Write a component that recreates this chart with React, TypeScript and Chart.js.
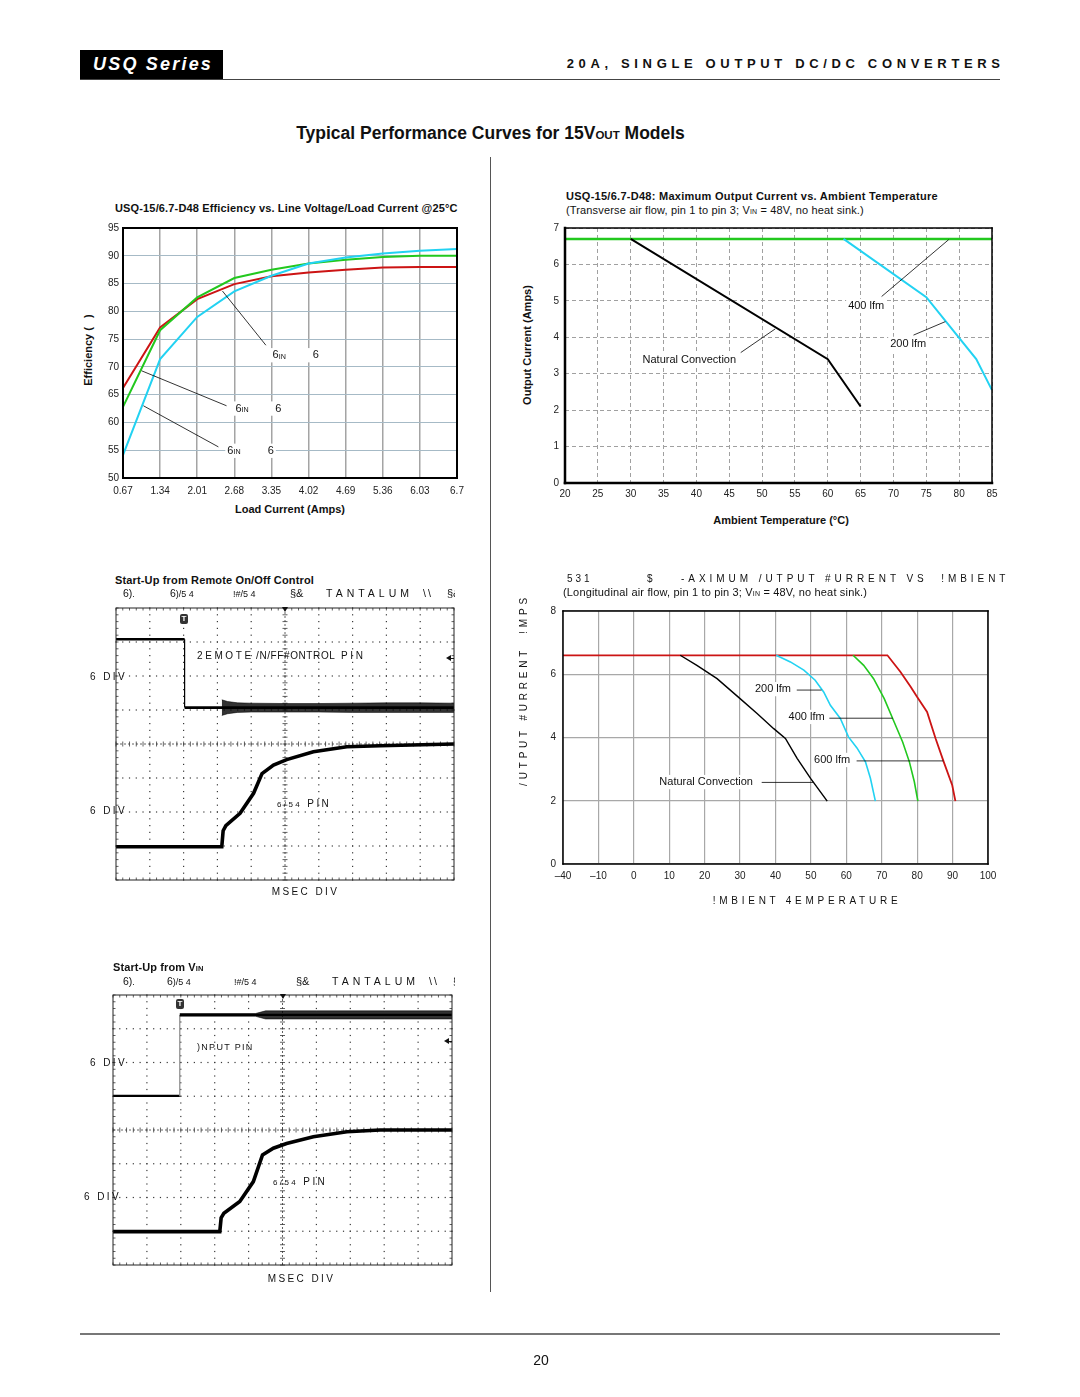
import React, { useEffect, useRef } from "react";
import { Chart, registerables } from "chart.js";

Chart.register(...registerables);

const FONT = '"Liberation Sans", Arial, Helvetica, sans-serif';
const NARROW = '"Liberation Sans Narrow", "Liberation Sans", Arial, sans-serif';
const RED = "#cc1414";
const GREEN = "#22c81e";
const CYAN = "#22d2f2";

// ===== Chart 1: efficiency vs line voltage / load current =====
const effLoadLabels = ["0.67", "1.34", "2.01", "2.68", "3.35", "4.02", "4.69", "5.36", "6.03", "6.7"];
const effRedLine = [66.2, 77.1, 82.2, 84.9, 86.3, 87.0, 87.5, 87.9, 88.0, 88.0];
const effGreenLine = [62.8, 76.6, 82.5, 86.0, 87.5, 88.6, 89.3, 89.8, 90.0, 90.0];
const effCyanLine = [54.1, 71.4, 79.0, 83.6, 86.4, 88.6, 89.7, 90.4, 90.9, 91.2];

// ===== Chart 2: max output current vs ambient temp (transverse) =====
const transNaturalTemps = [30, 60, 65];
const transNaturalAmps = [6.7, 3.4, 2.1];
const trans400Temps = [20, 85];
const trans400Amps = [6.7, 6.7];
const trans200Temps = [62.4, 75, 82.6, 85];
const trans200Amps = [6.7, 5.1, 3.4, 2.55];

// ===== Chart 5: max output current vs ambient temp (longitudinal) =====
const longTickLabels = ["\u201340", "\u201310", "0", "10", "20", "30", "40", "50", "60", "70", "80", "90", "100"];
const longNaturalTemps = [13.1, 17.8, 23.5, 30.0, 34.8, 39.5, 42.8, 46.1, 49.9, 54.6];
const longNaturalAmps = [6.6, 6.28, 5.86, 5.23, 4.76, 4.28, 3.97, 3.34, 2.71, 1.99];
const long200Temps = [40.2, 44.2, 48.0, 51.2, 53.6, 55.5, 58.3, 60.6, 63.0, 65.4, 66.8, 68.2];
const long200Amps = [6.6, 6.39, 6.13, 5.81, 5.44, 5.02, 4.6, 4.02, 3.67, 3.23, 2.71, 1.99];
const long400Temps = [61.9, 64.9, 67.7, 70.7, 73.5, 75.9, 77.8, 79.2, 80.2];
const long400Amps = [6.6, 6.28, 5.86, 5.23, 4.49, 3.86, 3.23, 2.6, 1.99];
const long600Temps = [-20, 71.6, 75.3, 78.2, 80, 82.8, 85.2, 87.5, 89.9, 90.8];
const long600Amps = [6.6, 6.6, 6.07, 5.6, 5.28, 4.81, 3.97, 3.23, 2.49, 1.99];

// ===== Scope 1: start-up from remote on/off (divisions) =====
const remoteDivX = [0, 2.03, 2.03, 3.13, 10];
const remoteDivY = [7.08, 7.08, 5.07, 5.07, 5.07];
const remoteNoiseX = [3.13, 3.3, 3.6, 4, 5, 6, 7, 8, 9, 10];
const remoteNoiseHi = [5.3, 5.25, 5.21, 5.2, 5.19, 5.19, 5.2, 5.21, 5.21, 5.2];
const remoteNoiseLo = [4.84, 4.89, 4.93, 4.94, 4.94, 4.94, 4.93, 4.93, 4.93, 4.93];
const vout1DivX = [0, 3.13, 3.17, 3.25, 3.67, 4.07, 4.32, 4.66, 5.05, 5.84, 6.83, 7.81, 10];
const vout1DivY = [0.98, 0.98, 1.45, 1.6, 1.96, 2.55, 3.13, 3.38, 3.54, 3.77, 3.92, 3.95, 4.0];

// ===== Scope 2: start-up from VIN (divisions) =====
const inputDivX = [0, 1.97, 1.97, 10];
const inputDivY = [5.01, 5.01, 7.41, 7.41];
const inputNoiseX = [1.97, 4.2, 4.5, 6, 8, 10];
const inputNoiseHi = [7.45, 7.45, 7.53, 7.53, 7.53, 7.53];
const inputNoiseLo = [7.37, 7.37, 7.29, 7.29, 7.29, 7.29];
const vout2DivX = [0, 3.15, 3.19, 3.27, 3.74, 4.14, 4.41, 4.73, 5.12, 5.91, 6.9, 7.88, 10];
const vout2DivY = [0.99, 0.99, 1.4, 1.53, 1.88, 2.47, 3.26, 3.46, 3.6, 3.8, 3.95, 4.0, 4.0];

const pts = (xs: number[], ys: number[]) => xs.map((x, i) => ({ x, y: ys[i] }));

type Note =
  | { kind: "line"; x1: number; y1: number; x2: number; y2: number }
  | { kind: "label"; x: number; y: number; text: string; sub?: string; x2?: number; text2?: string };

function notesPlugin(notes: Note[], size = 11) {
  return {
    id: "notes",
    afterDatasetsDraw(chart: any) {
      const { ctx } = chart;
      const xs = chart.scales.x;
      const ys = chart.scales.y;
      ctx.save();
      ctx.strokeStyle = "#000";
      ctx.lineWidth = 0.8;
      for (const n of notes) {
        if (n.kind !== "line") continue;
        ctx.beginPath();
        ctx.moveTo(xs.getPixelForValue(n.x1), ys.getPixelForValue(n.y1));
        ctx.lineTo(xs.getPixelForValue(n.x2), ys.getPixelForValue(n.y2));
        ctx.stroke();
      }
      ctx.textBaseline = "middle";
      for (const n of notes) {
        if (n.kind !== "label") continue;
        const px = xs.getPixelForValue(n.x);
        const py = ys.getPixelForValue(n.y);
        ctx.font = `${size}px ${FONT}`;
        const w1 = ctx.measureText(n.text).width;
        ctx.font = `${size * 0.65}px ${FONT}`;
        const ws = n.sub ? ctx.measureText(n.sub).width : 0;
        ctx.font = `${size}px ${FONT}`;
        let end = px + w1 + ws;
        let p2 = 0;
        if (n.x2 !== undefined && n.text2) {
          p2 = xs.getPixelForValue(n.x2);
          end = p2 + ctx.measureText(n.text2).width;
        }
        ctx.fillStyle = "#fff";
        ctx.fillRect(px - 2, py - size * 0.65, end - px + 4, size * 1.3);
        ctx.fillStyle = "#111";
        ctx.fillText(n.text, px, py);
        if (n.sub) {
          ctx.font = `${size * 0.65}px ${FONT}`;
          ctx.fillText(n.sub, px + w1, py + 1.5);
          ctx.font = `${size}px ${FONT}`;
        }
        if (n.x2 !== undefined && n.text2) ctx.fillText(n.text2, p2, py);
      }
      ctx.restore();
    },
  };
}

function framePlugin(w: { t: number; r: number; b: number; l: number }) {
  return {
    id: "frame",
    afterDatasetsDraw(chart: any) {
      const { ctx, chartArea } = chart;
      const { left, right, top, bottom } = chartArea;
      ctx.save();
      ctx.strokeStyle = "#000";
      ctx.lineCap = "square";
      const ln = (x1: number, y1: number, x2: number, y2: number, lw: number) => {
        ctx.lineWidth = lw;
        ctx.beginPath();
        ctx.moveTo(x1, y1);
        ctx.lineTo(x2, y2);
        ctx.stroke();
      };
      ln(left, top, right, top, w.t);
      ln(right, top, right, bottom, w.r);
      ln(left, bottom, right, bottom, w.b);
      ln(left, top, left, bottom, w.l);
      ctx.restore();
    },
  };
}

const graticulePlugin = {
  id: "graticule",
  beforeDatasetsDraw(chart: any) {
    const { ctx, chartArea } = chart;
    const { left, right, top, bottom } = chartArea;
    const xs = chart.scales.x;
    const ys = chart.scales.y;
    ctx.save();
    ctx.fillStyle = "#3a3a3a";
    for (let i = 1; i < 10; i++) {
      if (i === 5) continue;
      const gx = xs.getPixelForValue(i);
      for (let k = 0; k <= 40; k++) ctx.fillRect(gx - 0.6, ys.getPixelForValue(k / 5) - 0.6, 1.2, 1.2);
    }
    for (let j = 1; j < 8; j++) {
      if (j === 4) continue;
      const gy = ys.getPixelForValue(j);
      for (let k = 0; k <= 50; k++) ctx.fillRect(xs.getPixelForValue(k / 5) - 0.6, gy - 0.6, 1.2, 1.2);
    }
    const cx = xs.getPixelForValue(5);
    const cy = ys.getPixelForValue(4);
    ctx.strokeStyle = "#3a3a3a";
    ctx.lineWidth = 0.8;
    ctx.setLineDash([2, 2]);
    ctx.beginPath();
    ctx.moveTo(cx, top);
    ctx.lineTo(cx, bottom);
    ctx.moveTo(left, cy);
    ctx.lineTo(right, cy);
    ctx.stroke();
    ctx.setLineDash([]);
    ctx.beginPath();
    for (let k = 0; k <= 50; k++) {
      const x = xs.getPixelForValue(k / 5);
      ctx.moveTo(x, cy - 2.5);
      ctx.lineTo(x, cy + 2.5);
      ctx.moveTo(x, top);
      ctx.lineTo(x, top + 2.5);
      ctx.moveTo(x, bottom);
      ctx.lineTo(x, bottom - 2.5);
    }
    for (let k = 0; k <= 40; k++) {
      const y = ys.getPixelForValue(k / 5);
      ctx.moveTo(cx - 2.5, y);
      ctx.lineTo(cx + 2.5, y);
      ctx.moveTo(left, y);
      ctx.lineTo(left + 2.5, y);
      ctx.moveTo(right, y);
      ctx.lineTo(right - 2.5, y);
    }
    ctx.stroke();
    ctx.restore();
  },
  afterDatasetsDraw(chart: any) {
    const { ctx, chartArea } = chart;
    ctx.save();
    ctx.strokeStyle = "#222";
    ctx.lineWidth = 1;
    ctx.strokeRect(chartArea.left, chartArea.top, chartArea.right - chartArea.left, chartArea.bottom - chartArea.top);
    ctx.restore();
  },
};

function box(pl: number, pt: number, pr: number, pb: number, L: number, B: number, padR: number, padT: number) {
  return { left: pl - L, top: pt - padT, width: pr - pl + L + padR, height: pb - pt + padT + B, L, B, padR, padT };
}

const tickFont = { family: NARROW, size: 10 };

function baseOptions(b: ReturnType<typeof box>) {
  return {
    responsive: false,
    animation: false,
    events: [],
    layout: { autoPadding: false, padding: { left: 0, top: b.padT, right: b.padR, bottom: 0 } },
    plugins: { legend: { display: false }, tooltip: { enabled: false } },
  };
}

const effBox = box(123, 228, 457, 478, 27, 24, 18, 14);
const transBox = box(565, 228, 992, 483, 22, 24, 16, 15);
const longBox = box(563, 611, 988, 864, 24, 24, 20, 16);
const scope1Box = { left: 115, top: 607, width: 340, height: 274 };
const scope2Box = { left: 112, top: 994, width: 341, height: 272 };

function effConfig() {
  const line = (data: number[], color: string) => ({
    data,
    borderColor: color,
    borderWidth: 2,
    pointRadius: 0,
    tension: 0,
    fill: false,
  });
  return {
    type: "line",
    data: {
      labels: effLoadLabels,
      datasets: [line(effCyanLine, CYAN), line(effGreenLine, GREEN), line(effRedLine, RED)],
    },
    options: {
      ...baseOptions(effBox),
      scales: {
        x: {
          type: "category",
          offset: false,
          grid: { color: "#a4a4a4", lineWidth: 1.5, drawTicks: false, offset: false },
          border: { display: false },
          ticks: { font: tickFont, color: "#222", padding: 7, autoSkip: false, maxRotation: 0 },
          afterFit: (s: any) => {
            s.height = effBox.B;
          },
        },
        y: {
          min: 50,
          max: 95,
          grid: { color: "#a6bac6", lineWidth: 1, drawTicks: false },
          border: { display: false },
          ticks: { stepSize: 5, font: tickFont, color: "#222", padding: 4 },
          afterFit: (s: any) => {
            s.width = effBox.L;
          },
        },
      },
    },
    plugins: [
      notesPlugin([
        { kind: "line", x1: 2.68, y1: 83.65, x2: 3.85, y2: 73.9 },
        { kind: "line", x1: 0.5, y1: 69.3, x2: 2.79, y2: 63.0 },
        { kind: "line", x1: 0.55, y1: 63.0, x2: 2.57, y2: 55.6 },
        { kind: "label", x: 4.03, y: 72.1, text: "6", sub: "IN", x2: 5.11, text2: "6" },
        { kind: "label", x: 3.03, y: 62.5, text: "6", sub: "IN", x2: 4.1, text2: "6" },
        { kind: "label", x: 2.81, y: 54.9, text: "6", sub: "IN", x2: 3.9, text2: "6" },
      ]),
      framePlugin({ t: 2, r: 2, b: 2, l: 2 }),
    ],
  };
}

function transConfig() {
  const line = (xs: number[], ys: number[], color: string, w = 2) => ({
    data: pts(xs, ys),
    borderColor: color,
    borderWidth: w,
    pointRadius: 0,
    tension: 0,
    fill: false,
  });
  return {
    type: "line",
    data: {
      datasets: [
        line(transNaturalTemps, transNaturalAmps, "#000"),
        line(trans200Temps, trans200Amps, CYAN),
        line(trans400Temps, trans400Amps, GREEN, 2.4),
      ],
    },
    options: {
      ...baseOptions(transBox),
      scales: {
        x: {
          type: "linear",
          min: 20,
          max: 85,
          grid: { color: "#a0a0a0", lineWidth: 1, drawTicks: false },
          border: { display: false, dash: [4, 3] },
          ticks: { stepSize: 5, font: tickFont, color: "#222", padding: 5 },
          afterFit: (s: any) => {
            s.height = transBox.B;
          },
        },
        y: {
          type: "linear",
          min: 0,
          max: 7,
          grid: { color: "#a0a0a0", lineWidth: 1, drawTicks: false },
          border: { display: false, dash: [4, 3] },
          ticks: { stepSize: 1, font: tickFont, color: "#222", padding: 6 },
          afterFit: (s: any) => {
            s.width = transBox.L;
          },
        },
      },
    },
    plugins: [
      notesPlugin([
        { kind: "line", x1: 68.2, y1: 5.12, x2: 78.4, y2: 6.68 },
        { kind: "line", x1: 73.05, y1: 4.06, x2: 77.9, y2: 4.43 },
        { kind: "line", x1: 46.75, y1: 3.58, x2: 52.0, y2: 4.23 },
        { kind: "label", x: 63.1, y: 4.86, text: "400 lfm" },
        { kind: "label", x: 69.5, y: 3.82, text: "200 lfm" },
        { kind: "label", x: 31.8, y: 3.38, text: "Natural Convection" },
      ]),
      framePlugin({ t: 1.5, r: 1.5, b: 2.5, l: 2.5 }),
    ],
  };
}

function longConfig() {
  const line = (xs: number[], ys: number[], color: string, w = 1.6) => ({
    data: pts(xs, ys),
    borderColor: color,
    borderWidth: w,
    pointRadius: 0,
    tension: 0,
    fill: false,
  });
  return {
    type: "line",
    data: {
      datasets: [
        line(longNaturalTemps, longNaturalAmps, "#000", 1.4),
        line(long200Temps, long200Amps, CYAN),
        line(long400Temps, long400Amps, GREEN),
        line(long600Temps, long600Amps, RED, 1.8),
      ],
    },
    options: {
      ...baseOptions(longBox),
      scales: {
        x: {
          type: "linear",
          min: -20,
          max: 100,
          grid: { color: "#a8a8a8", lineWidth: 1.2, drawTicks: false },
          border: { display: false },
          ticks: {
            stepSize: 10,
            font: tickFont,
            color: "#222",
            padding: 6,
            callback: (_v: any, i: number) => longTickLabels[i],
          },
          afterFit: (s: any) => {
            s.height = longBox.B;
          },
        },
        y: {
          type: "linear",
          min: 0,
          max: 8,
          grid: { color: "#a8a8a8", lineWidth: 1.2, drawTicks: false },
          border: { display: false },
          ticks: { stepSize: 2, font: tickFont, color: "#222", padding: 7 },
          afterFit: (s: any) => {
            s.width = longBox.L;
          },
        },
      },
    },
    plugins: [
      notesPlugin([
        { kind: "line", x1: 46.0, y1: 5.5, x2: 53.0, y2: 5.5 },
        { kind: "line", x1: 55.2, y1: 4.61, x2: 73.1, y2: 4.61 },
        { kind: "line", x1: 62.9, y1: 3.26, x2: 87.4, y2: 3.26 },
        { kind: "line", x1: 36.1, y1: 2.58, x2: 50.7, y2: 2.58 },
        { kind: "label", x: 34.2, y: 5.53, text: "200 lfm" },
        { kind: "label", x: 43.7, y: 4.65, text: "400 lfm" },
        { kind: "label", x: 50.9, y: 3.29, text: "600 lfm" },
        { kind: "label", x: 7.2, y: 2.59, text: "Natural Convection" },
      ]),
      framePlugin({ t: 1.5, r: 1.5, b: 1.5, l: 1.5 }),
    ],
  };
}

function traceLine(xs: number[], ys: number[], w: number, stepColor = "#000") {
  return {
    data: pts(xs, ys),
    borderColor: "#000",
    borderWidth: w,
    pointRadius: 0,
    tension: 0,
    fill: false,
    segment: {
      borderWidth: (c: any) => (c.p0.parsed.x === c.p1.parsed.x ? 1.2 : undefined),
      borderColor: (c: any) => (c.p0.parsed.x === c.p1.parsed.x ? stepColor : undefined),
    },
  };
}
function bandPair(xs: number[], hi: number[], lo: number[]) {
  return [
    { data: pts(xs, hi), borderColor: "rgba(0,0,0,0.55)", borderWidth: 1, pointRadius: 0, tension: 0, fill: false },
    {
      data: pts(xs, lo),
      borderColor: "rgba(0,0,0,0.55)",
      borderWidth: 1,
      pointRadius: 0,
      tension: 0,
      fill: "-1",
      backgroundColor: "rgba(0,0,0,0.8)",
    },
  ];
}

function scopeConfig(datasets: any[]) {
  return {
    type: "line",
    data: { datasets },
    options: {
      responsive: false,
      animation: false,
      events: [],
      layout: { autoPadding: false, padding: 1 },
      plugins: { legend: { display: false }, tooltip: { enabled: false } },
      scales: {
        x: { type: "linear", min: 0, max: 10, display: false },
        y: { type: "linear", min: 0, max: 8, display: false },
      },
    },
    plugins: [graticulePlugin],
  };
}

function scope1Config() {
  return scopeConfig([
    ...bandPair(remoteNoiseX, remoteNoiseHi, remoteNoiseLo),
    traceLine(remoteDivX, remoteDivY, 2.6),
    traceLine(vout1DivX, vout1DivY, 3.6),
  ]);
}
function scope2Config() {
  return scopeConfig([
    ...bandPair(inputNoiseX, inputNoiseHi, inputNoiseLo),
    traceLine(inputDivX, inputDivY, 2.4, "#888"),
    traceLine(vout2DivX, vout2DivY, 3.6),
  ]);
}

function ChartCanvas(props: { left: number; top: number; width: number; height: number; make: () => any }) {
  const ref = useRef<HTMLCanvasElement | null>(null);
  useEffect(() => {
    if (!ref.current) return;
    const chart = new Chart(ref.current, props.make());
    return () => chart.destroy();
  }, []);
  const { left, top, width, height } = props;
  return (
    <canvas
      ref={ref}
      width={width}
      height={height}
      style={{ position: "absolute", left, top, width, height, display: "block" }}
    />
  );
}

function Txt(props: {
  x: number;
  y: number;
  size?: number;
  bold?: boolean;
  italic?: boolean;
  ls?: number;
  color?: string;
  anchor?: "start" | "middle";
  rotate?: boolean;
  children: React.ReactNode;
}) {
  const size = props.size ?? 11;
  const style: React.CSSProperties = {
    position: "absolute",
    left: props.x,
    top: props.y - size * 0.5,
    fontFamily: FONT,
    fontSize: size,
    lineHeight: `${size}px`,
    fontWeight: props.bold ? 700 : 400,
    fontStyle: props.italic ? "italic" : "normal",
    letterSpacing: props.ls ?? 0,
    color: props.color ?? "#111",
    whiteSpace: "nowrap",
  };
  if (props.rotate) {
    style.top = props.y;
    style.transform = "translate(-50%, -50%) rotate(-90deg)";
  } else if (props.anchor === "middle") {
    style.transform = "translateX(-50%)";
  }
  return <div style={style}>{props.children}</div>;
}

const small = (s: string, size = 7) => <span style={{ fontSize: size }}>{s}</span>;

function TMarker({ x, y }: { x: number; y: number }) {
  return (
    <div
      style={{
        position: "absolute",
        left: x - 4,
        top: y - 5,
        width: 8,
        height: 10,
        borderRadius: 2,
        background: "#333",
        color: "#fff",
        fontFamily: FONT,
        fontSize: 8,
        fontWeight: 700,
        lineHeight: "10px",
        textAlign: "center",
      }}
    >
      T
    </div>
  );
}
function DownTri({ x, y }: { x: number; y: number }) {
  return (
    <div
      style={{
        position: "absolute",
        left: x - 3.5,
        top: y - 3,
        width: 0,
        height: 0,
        borderLeft: "3.5px solid transparent",
        borderRight: "3.5px solid transparent",
        borderTop: "5px solid #111",
      }}
    />
  );
}
function LeftArrow({ x, y }: { x: number; y: number }) {
  return (
    <>
      <div
        style={{
          position: "absolute",
          left: x - 3,
          top: y - 3,
          width: 0,
          height: 0,
          borderTop: "3px solid transparent",
          borderBottom: "3px solid transparent",
          borderRight: "5px solid #111",
        }}
      />
      <div style={{ position: "absolute", left: x + 2, top: y - 0.5, width: 3, height: 1, background: "#111" }} />
    </>
  );
}

function ScopeHeader({ y, x1, x2, x3, x4 }: { y: number; x1: number; x2: number; x3: number; x4: number }) {
  return (
    <div style={{ position: "absolute", left: 0, top: 0, width: 455, height: 1397, overflow: "hidden" }}>
      <Txt x={x1} y={y} size={10.5}>
        6){small(".", 9)}
      </Txt>
      <Txt x={x2} y={y} size={10.5}>
        6{small(")/5 4", 9)}
      </Txt>
      <Txt x={x3} y={y} size={10.5}>
        {small("!#/5 4", 9)}
      </Txt>
      <Txt x={x4} y={y} size={11}>
        §&
      </Txt>
      <Txt x={x4 + 36} y={y} size={10.5} ls={4}>
        TANTALUM
      </Txt>
      <Txt x={x4 + 133} y={y} size={10.5} ls={2}>
        {"\\\\"}
      </Txt>
      <Txt x={x4 + 157} y={y} size={11}>
        §&
      </Txt>
    </div>
  );
}

export default function App() {
  return (
    <div
      style={{
        position: "absolute",
        left: 0,
        top: 0,
        width: 1080,
        height: 1397,
        background: "#fff",
        overflow: "hidden",
        fontFamily: FONT,
      }}
    >
      {/* header */}
      <div style={{ position: "absolute", left: 80, top: 50, width: 143, height: 29, background: "#000" }} />
      <Txt x={93} y={64} size={18} bold italic ls={2.2} color="#fff">
        USQ Series
      </Txt>
      <div style={{ position: "absolute", left: 80, top: 78.5, width: 920, height: 1, background: "#444" }} />
      <div
        style={{
          position: "absolute",
          right: 1080 - 1000 - 4.65,
          top: 63 - 6.5,
          fontFamily: FONT,
          fontSize: 13,
          lineHeight: "13px",
          fontWeight: 700,
          letterSpacing: 4.65,
          color: "#111",
          whiteSpace: "nowrap",
        }}
      >
        20A, SINGLE OUTPUT DC/DC CONVERTERS
      </div>
      <Txt x={490.5} y={134} size={17.5} bold anchor="middle">
        Typical Performance Curves for 15V<span style={{ fontSize: 11.5 }}>OUT</span> Models
      </Txt>

      {/* divider */}
      <div style={{ position: "absolute", left: 489.5, top: 157, width: 1.2, height: 1135, background: "#555" }} />

      {/* chart 1 */}
      <Txt x={115} y={208} size={11} bold ls={0.15}>
        USQ-15/6.7-D48 Efficiency vs. Line Voltage/Load Current @25°C
      </Txt>
      <ChartCanvas left={effBox.left} top={effBox.top} width={effBox.width} height={effBox.height} make={effConfig} />
      <Txt x={88} y={350} size={11} bold rotate>
        Efficiency (&nbsp;&nbsp;&nbsp;)
      </Txt>
      <Txt x={290} y={509} size={11} bold anchor="middle">
        Load Current (Amps)
      </Txt>

      {/* chart 2 */}
      <Txt x={566} y={196} size={11} bold ls={0.27}>
        USQ-15/6.7-D48: Maximum Output Current vs. Ambient Temperature
      </Txt>
      <Txt x={566} y={210} size={11} ls={0.15}>
        (Transverse air flow, pin 1 to pin 3; V<span style={{ fontSize: 7 }}>IN</span> = 48V, no heat sink.)
      </Txt>
      <ChartCanvas left={transBox.left} top={transBox.top} width={transBox.width} height={transBox.height} make={transConfig} />
      <Txt x={527} y={345} size={11} bold rotate>
        Output Current (Amps)
      </Txt>
      <Txt x={781} y={520} size={11} bold anchor="middle">
        Ambient Temperature (°C)
      </Txt>

      {/* scope 1 */}
      <Txt x={115} y={580} size={11} bold ls={0.15}>
        Start-Up from Remote On/Off Control
      </Txt>
      <ScopeHeader y={593} x1={123} x2={170} x3={233} x4={290} />
      <ChartCanvas left={scope1Box.left} top={scope1Box.top} width={scope1Box.width} height={scope1Box.height} make={scope1Config} />
      <TMarker x={184} y={619} />
      <DownTri x={285} y={610} />
      <LeftArrow x={449} y={658} />
      <Txt x={197} y={656} size={10} ls={2.6}>
        2EMOTE
      </Txt>
      <Txt x={256} y={656} size={10} ls={0.6}>
        /N/FF#ONTROL
      </Txt>
      <Txt x={341} y={656} size={10} ls={2.6}>
        PIN
      </Txt>
      <Txt x={90} y={677} size={10} ls={2.4}>
        6 DIV
      </Txt>
      <Txt x={90} y={811} size={10} ls={2.4}>
        6 DIV
      </Txt>
      <Txt x={277} y={804} size={10} ls={2.4}>
        {small("6/54", 8)} PIN
      </Txt>
      <Txt x={305.5} y={892} size={10} ls={2.4} anchor="middle">
        MSEC DIV
      </Txt>

      {/* scope 2 */}
      <Txt x={113} y={967} size={11} bold ls={0.1}>
        Start-Up from V<span style={{ fontSize: 7.5 }}>IN</span>
      </Txt>
      <ScopeHeader y={981} x1={123} x2={167} x3={234} x4={296} />
      <ChartCanvas left={scope2Box.left} top={scope2Box.top} width={scope2Box.width} height={scope2Box.height} make={scope2Config} />
      <TMarker x={180} y={1004} />
      <DownTri x={283} y={997} />
      <LeftArrow x={447} y={1041} />
      <Txt x={197} y={1047} size={9} ls={1.3}>
        )NPUT PIN
      </Txt>
      <Txt x={90} y={1063} size={10} ls={2.4}>
        6 DIV
      </Txt>
      <Txt x={84} y={1197} size={10} ls={2.4}>
        6 DIV
      </Txt>
      <Txt x={273} y={1182} size={10} ls={2.4}>
        {small("6/54", 8)} PIN
      </Txt>
      <Txt x={301.5} y={1279} size={10} ls={2.4} anchor="middle">
        MSEC DIV
      </Txt>

      {/* chart 5 */}
      <div style={{ position: "absolute", left: 0, top: 0, width: 1009, height: 1397, overflow: "hidden" }}>
        <Txt x={567} y={579} size={10} ls={3}>
          531
        </Txt>
        <Txt x={647} y={579} size={10}>
          $
        </Txt>
        <Txt x={681} y={579} size={10} ls={3.95}>
          -AXIMUM /UTPUT #URRENT VS&nbsp;&nbsp;!MBIENT 4EMPERATURE
        </Txt>
      </div>
      <Txt x={563} y={592} size={11} ls={0.17}>
        (Longitudinal air flow, pin 1 to pin 3; V<span style={{ fontSize: 7 }}>IN</span> = 48V, no heat sink.)
      </Txt>
      <ChartCanvas left={longBox.left} top={longBox.top} width={longBox.width} height={longBox.height} make={longConfig} />
      <Txt x={524} y={690} size={10} ls={3.8} rotate>
        /UTPUT #URRENT &nbsp;!MPS
      </Txt>
      <Txt x={807} y={901} size={10} ls={3.75} anchor="middle">
        !MBIENT 4EMPERATURE
      </Txt>

      {/* footer */}
      <div style={{ position: "absolute", left: 80, top: 1333, width: 920, height: 1.5, background: "#777" }} />
      <Txt x={541} y={1360} size={14} anchor="middle">
        20
      </Txt>
    </div>
  );
}
